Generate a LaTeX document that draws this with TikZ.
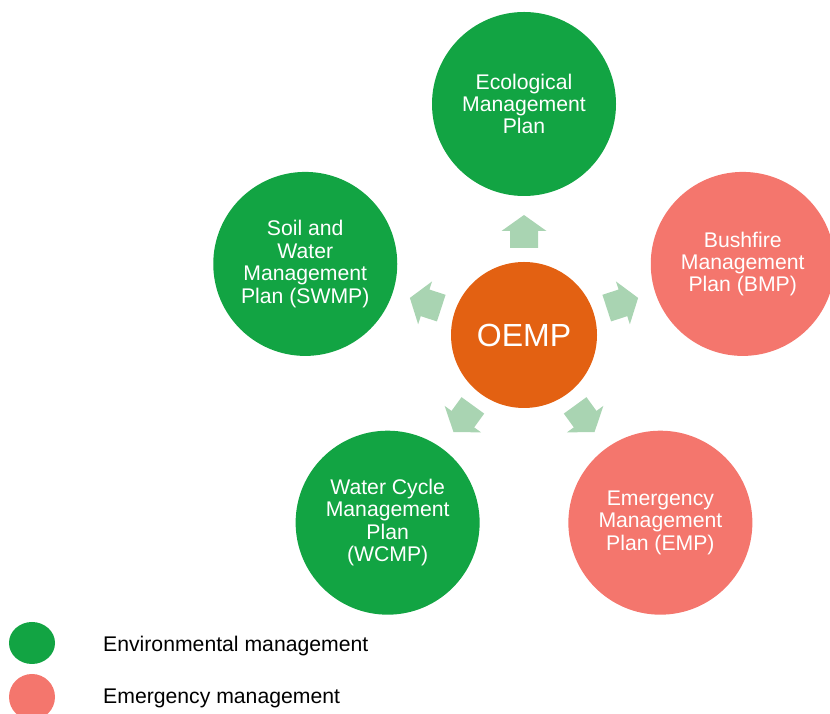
\documentclass[tikz,border=0pt]{standalone}
\usepackage{fontspec}
\setmainfont{Liberation Sans}
\usetikzlibrary{calc,shapes.geometric}
\begin{document}
\definecolor{envgreen}{HTML}{12A443}
\definecolor{emsalmon}{HTML}{F4766D}
\definecolor{coreorange}{HTML}{E36112}
\definecolor{arrowgreen}{HTML}{A9D4B2}
\begin{tikzpicture}[x=1pt,y=1pt,
  plan/.style={circle,minimum size=184pt,inner sep=0pt,text=white,align=center,
    font=\fontsize{21.2}{22.4}\selectfont},
  envplan/.style={plan,fill=envgreen},
  emplan/.style={plan,fill=emsalmon},
  core/.style={circle,fill=coreorange,minimum size=146pt,inner sep=0pt,text=white,
    font=\fontsize{32}{36}\selectfont},
  flowarrow/.style={fill=arrowgreen},
  legtext/.style={anchor=west,inner sep=0pt,font=\fontsize{21.2}{24}\selectfont}]
\useasboundingbox (0,0) rectangle (830,714);

% central plan
\coordinate (c) at (524,379);
\node[core] (oemp) at (c) {OEMP};

% satellite plans on a pentagon around the centre
\node[envplan] (eco)  at ($(c)+(90:231)$)   {Ecological\\Management\\Plan};
\node[emplan]  (bush) at ($(c)+(18:230)$)   {Bushfire\\Management\\Plan (BMP)};
\node[emplan]  (emp)  at ($(c)+(-54:232)$)  {Emergency\\Management\\Plan (EMP)};
\node[envplan] (wcmp) at ($(c)+(-126:232)$) {Water Cycle\\Management\\Plan\\(WCMP)};
\node[envplan] (swmp) at ($(c)+(162:230)$)  {Soil and\\Water\\Management\\Plan (SWMP)};

% block arrows pointing outwards from the centre
\foreach \a in {90,18,-54,-126,162}{
  \fill[flowarrow,shift={(c)},rotate=\a]
    (87,-14) -- (104,-14) -- (104,-22.5) -- (120,0) -- (104,22.5) -- (104,14) -- (87,14) -- cycle;
}

% legend
\node[ellipse,fill=envgreen,minimum width=46pt,minimum height=42pt,inner sep=0pt] (lgenv) at (32,71) {};
\node[circle,fill=emsalmon,minimum size=46pt,inner sep=0pt] (lgem) at (32,17) {};
\node[legtext] (lgenvtext) at (103,68) {Environmental management};
\node[legtext] (lgemtext) at (103,16) {Emergency management};
\end{tikzpicture}
\end{document}
